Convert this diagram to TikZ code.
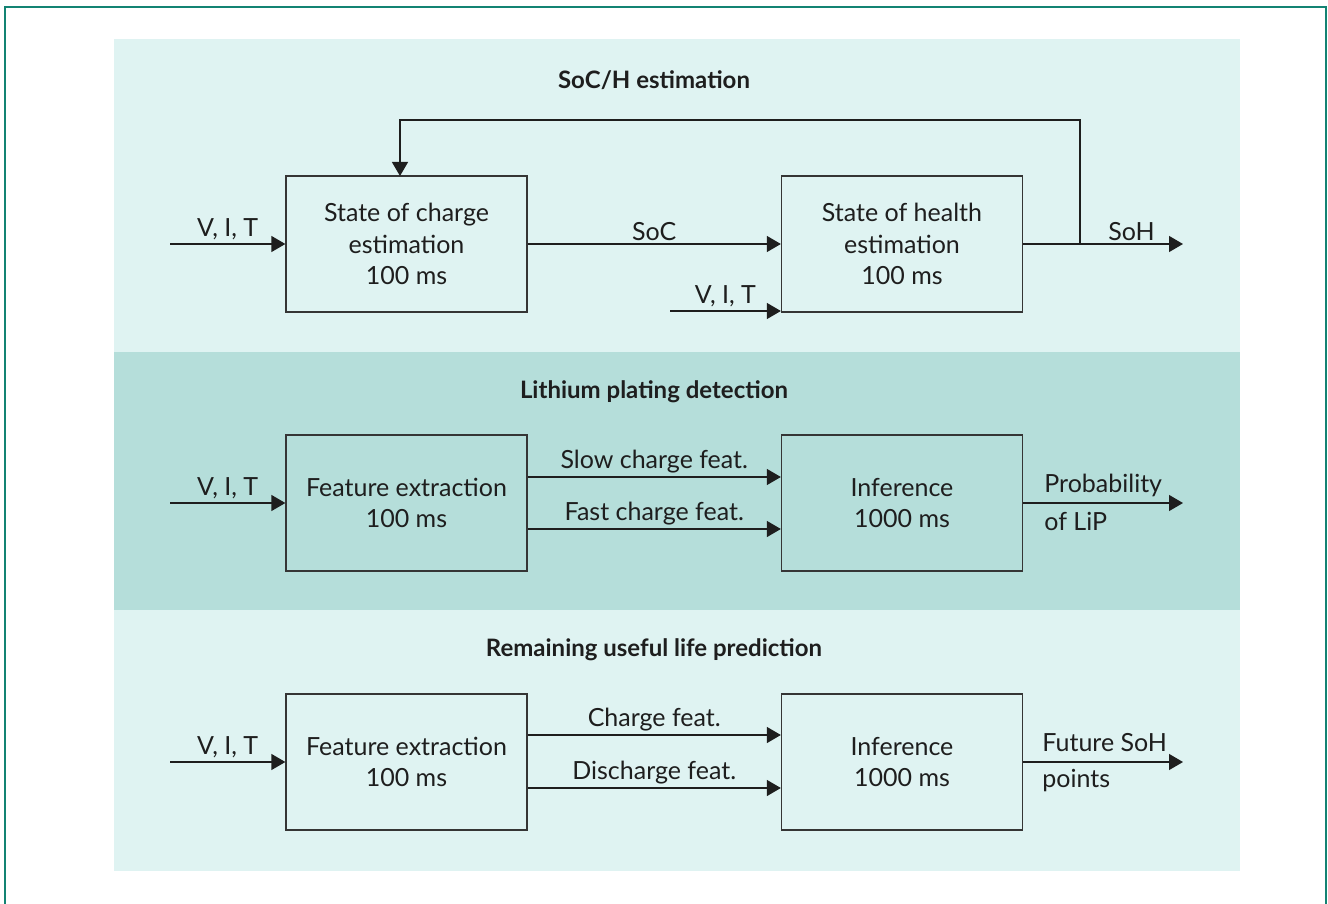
\documentclass[tikz,border=0pt]{standalone}
\usepackage{fontspec}
\setmainfont{Lato}
\usepackage{xcolor}
\usetikzlibrary{arrows.meta,positioning,calc}

\definecolor{frameteal}{HTML}{138373}
\definecolor{panellight}{HTML}{DFF3F2}
\definecolor{paneldark}{HTML}{B5DEDA}
\definecolor{ink}{HTML}{1E1E1E}

\begin{document}
\begin{tikzpicture}[
    x=1pt, y=-1pt,
    font=\fontsize{25}{31.5}\selectfont,
    text=ink,
    every node/.style={inner sep=3pt},
    blockbox/.style={
        draw=ink!90,
        line width=1.3pt,
        minimum width=241pt,
        minimum height=136pt,
        align=center
    },
    flow/.style={
        draw=ink,
        line width=1.3pt,
        -{Triangle[length=14pt,width=16pt]}
    },
    outlabel/.style={anchor=base west},
    heading/.style={font=\fontsize{24}{30}\selectfont\bfseries}
]

\useasboundingbox (0,0) rectangle (1328,904);

% panels
\fill[panellight] (114,39) rectangle (1240,352);
\fill[paneldark] (114,352) rectangle (1240,610);
\fill[panellight] (114,610) rectangle (1240,871);
\draw[frameteal, line width=2pt] (5,904) -- (5,7) -- (1326,7) -- (1326,904);

% headings
\node[heading] (hsoc) at (654,80) {SoC/H estimation};
\node[heading] (hlip) at (654,392) {Lithium plating detection};
\node[heading] (hrul) at (654,650) {Remaining useful life prediction};

% SoC/H row
\node[blockbox] (soc) at (406.5,244) {State of charge\\estimation\\100 ms};
\node[blockbox] (soh) at (902,244) {State of health\\estimation\\100 ms};
\coordinate (socin) at (170,244);
\coordinate (sohin) at (670,311);
\coordinate (sohout) at (1183,244);
\coordinate (tap) at (1080,244);

\draw[flow] (socin) -- node[above] {V, I, T} (soc);
\draw[flow] (soc) -- node[above] {SoC} (soh);
\draw[flow] (sohin) -- node[above] {V, I, T} (sohin -| soh.west);
\draw[flow] (soh) -- (tap) -- node[above] {SoH} (sohout);
\draw[flow] (tap) -- (1080,120) -- (400,120) -- (400,176);

% lithium plating row
\node[blockbox] (featlip) at (406.5,503) {Feature extraction\\100 ms};
\node[blockbox] (inflip) at (902,503) {Inference\\1000 ms};
\coordinate (lipin) at (170,503);
\coordinate (lipout) at (1183,503);

\draw[flow] (lipin) -- node[above] {V, I, T} (featlip);
\draw[flow] ($(featlip.east)+(0,-26)$) -- node[above] {Slow charge feat.} ($(inflip.west)+(0,-26)$);
\draw[flow] ($(featlip.east)+(0,26)$) -- node[above] {Fast charge feat.} ($(inflip.west)+(0,26)$);
\draw[flow] (inflip) -- (lipout);
\node[outlabel] (probtop) at ($(inflip.east)+(18,-11)$) {Probability};
\node[outlabel] (probbot) at ($(inflip.east)+(18,27)$) {of LiP};

% remaining useful life row
\node[blockbox] (featrul) at (406.5,762) {Feature extraction\\100 ms};
\node[blockbox] (infrul) at (902,762) {Inference\\1000 ms};
\coordinate (rulin) at (170,762);
\coordinate (rulout) at (1183,762);

\draw[flow] (rulin) -- node[above] {V, I, T} (featrul);
\draw[flow] ($(featrul.east)+(0,-27)$) -- node[above] {Charge feat.} ($(infrul.west)+(0,-27)$);
\draw[flow] ($(featrul.east)+(0,26)$) -- node[above] {Discharge feat.} ($(infrul.west)+(0,26)$);
\draw[flow] (infrul) -- (rulout);
\node[outlabel] (futtop) at ($(infrul.east)+(16,-11)$) {Future SoH};
\node[outlabel] (futbot) at ($(infrul.east)+(16,25)$) {points};

\end{tikzpicture}
\end{document}
